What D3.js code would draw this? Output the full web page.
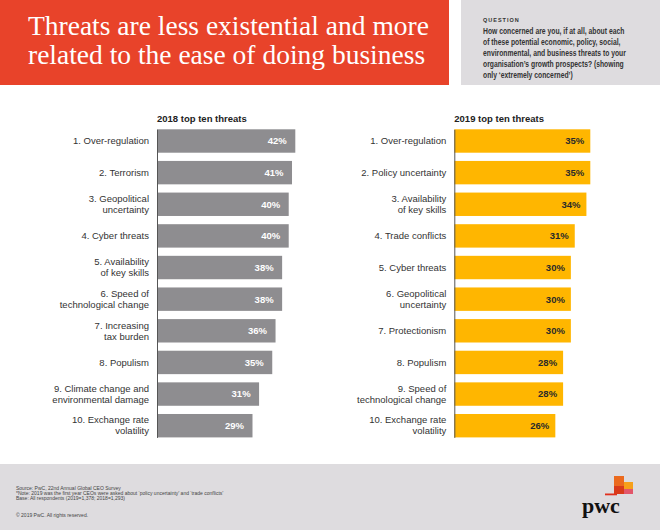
<!DOCTYPE html>
<html>
<head>
<meta charset="utf-8">
<script src="https://cdn.jsdelivr.net/npm/d3@7"></script>
<style>
body { margin: 0; background: #fff; }
svg text { font-family: "Liberation Sans", Arial, sans-serif; }
</style>
</head>
<body>
<div id="chart"></div>
<script>
// values
var cats2018 = ["1. Over-regulation", "2. Terrorism", "3. Geopolitical\nuncertainty", "4. Cyber threats",
	"5. Availability\nof key skills", "6. Speed of\ntechnological change", "7. Increasing\ntax burden",
	"8. Populism", "9. Climate change and\nenvironmental damage", "10. Exchange rate\nvolatility"];
var vals2018 = [42, 41, 40, 40, 38, 38, 36, 35, 31, 29];

var cats2019 = ["1. Over-regulation", "2. Policy uncertainty", "3. Availability\nof key skills", "4. Trade conflicts",
	"5. Cyber threats", "6. Geopolitical\nuncertainty", "7. Protectionism", "8. Populism",
	"9. Speed of\ntechnological change", "10. Exchange rate\nvolatility"];
var vals2019 = [35, 35, 34, 31, 30, 30, 30, 28, 28, 26];

var titleLines = ["Threats are less existential and more", "related to the ease of doing business"];
var questionLines = ["How concerned are you, if at all, about each", "of these potential economic, policy, social,",
	"environmental, and business threats to your", "organisation\u2019s growth prospects? (showing",
	"only \u2018extremely concerned\u2019)"];
var footLines = ["Source: PwC, 22nd Annual Global CEO Survey",
	"*Note: 2019 was the first year CEOs were asked about \u2018policy uncertainty\u2019 and \u2018trade conflicts\u2019",
	"Base: All respondents (2019=1,378; 2018=1,293)"];

var svg = d3.select("#chart").append("svg")
	.attr("width", 660)
	.attr("height", 530);

// header
svg.append("rect").attr("x", 0).attr("y", 0).attr("width", 449).attr("height", 85).attr("fill", "#e8432a");
svg.append("rect").attr("x", 461).attr("y", 0).attr("width", 199).attr("height", 85).attr("fill", "#dedcdf");

svg.selectAll(".title").data(titleLines).join("text")
	.attr("class", "title")
	.attr("x", 28)
	.attr("y", (d, i) => 35 + i * 29)
	.attr("fill", "#fff")
	.style("font-family", "'Liberation Serif', 'DejaVu Serif', serif")
	.style("font-size", "27.5px")
	.text(d => d);

svg.append("text")
	.attr("x", 483).attr("y", 21.5)
	.attr("fill", "#333")
	.style("font-size", "5.5px").style("font-weight", "bold").style("letter-spacing", "1px")
	.text("QUESTION");

// question text squeezed to the width it has in the picture
svg.selectAll(".q").data(questionLines).join("text")
	.attr("class", "q")
	.attr("x", 483)
	.attr("y", (d, i) => 34 + i * 11)
	.attr("fill", "#333")
	.style("font-size", "8.4px").style("font-weight", "bold")
	.text(d => d)
	.each(function() {
		var len = this.getComputedTextLength();
		d3.select(this).attr("textLength", len * 0.81).attr("lengthAdjust", "spacingAndGlyphs");
	});

// one bar panel
function drawPanel(left, title, cats, vals, maxVal, w, fill, valColor, pad) {
	var y = d3.scaleBand()
		.domain(cats)
		.range([129.3, 437.4])
		.paddingInner(0.26)
		.paddingOuter(0);
	var x = d3.scaleLinear()
		.domain([0, maxVal])
		.range([0, w]);

	var g = svg.append("g").attr("transform", "translate(" + left + ",0)");

	g.append("text")
		.attr("x", 0).attr("y", 121.5)
		.attr("fill", "#222")
		.style("font-size", "9.5px").style("font-weight", "bold")
		.text(title);

	g.selectAll("rect.bar")
		.data(vals)
		.join("rect")
		.attr("class", "bar")
		.attr("x", 0)
		.attr("y", (d, i) => y(cats[i]))
		.attr("width", d => x(d))
		.attr("height", y.bandwidth())
		.attr("fill", fill);

	g.selectAll("text.val")
		.data(vals)
		.join("text")
		.attr("class", "val")
		.attr("x", d => x(d) - pad)
		.attr("y", (d, i) => y(cats[i]) + y.bandwidth() / 2)
		.attr("dy", "0.36em")
		.attr("text-anchor", "end")
		.attr("fill", valColor)
		.style("font-size", "9.5px").style("font-weight", "bold")
		.text(d => d + "%");

	var axis = g.append("g")
		.call(d3.axisLeft(y).tickSize(0).tickSizeOuter(0).tickPadding(8));
	axis.select(".domain").attr("stroke", "#555").attr("stroke-width", 1);
	axis.selectAll(".tick text")
		.attr("fill", "#333")
		.attr("dy", null)
		.style("font-size", "9.5px")
		.each(function(d) {
			var lines = d.split("\n");
			var t = d3.select(this).text(null);
			lines.forEach(function(line, k) {
				t.append("tspan")
					.attr("x", -8)
					.attr("dy", k == 0 ? (0.34 - (lines.length - 1) * 0.58) + "em" : "1.16em")
					.text(line);
			});
		});
}

drawPanel(157, "2018 top ten threats", cats2018, vals2018, 42, 138.3, "#8e8d90", "#fff", 8.5);
drawPanel(454.3, "2019 top ten threats", cats2019, vals2019, 35, 136, "#ffb600", "#2a2a2a", 6);

// footer
svg.append("rect").attr("x", 0).attr("y", 464).attr("width", 660).attr("height", 66).attr("fill", "#dedcdf");
svg.selectAll(".foot").data(footLines).join("text")
	.attr("class", "foot")
	.attr("x", 16)
	.attr("y", (d, i) => 489.5 + i * 5.3)
	.attr("fill", "#444")
	.style("font-size", "5px")
	.text(d => d);
svg.append("text")
	.attr("x", 16).attr("y", 516.5)
	.attr("fill", "#444")
	.style("font-size", "5px")
	.text("\u00a9 2019 PwC. All rights reserved.");

// pwc mark
var logo = svg.append("g");
logo.append("rect").attr("x", 605).attr("y", 493.5).attr("width", 12).attr("height", 1.8).attr("fill", "#e0301e");
logo.append("rect").attr("x", 614).attr("y", 476).attr("width", 10).attr("height", 18).attr("fill", "#eb6a1e");
logo.append("rect").attr("x", 614).attr("y", 486).attr("width", 10).attr("height", 8).attr("fill", "#d93a1a");
logo.append("rect").attr("x", 624).attr("y", 482).attr("width", 9).attr("height", 12).attr("fill", "#f6a01a");
logo.append("rect").attr("x", 624).attr("y", 489).attr("width", 9).attr("height", 5).attr("fill", "#e2566a");
logo.append("text")
	.attr("x", 582).attr("y", 513)
	.attr("fill", "#111")
	.style("font-family", "'Liberation Serif', serif")
	.style("font-size", "22px").style("font-weight", "bold")
	.text("pwc");
</script>
</body>
</html>
